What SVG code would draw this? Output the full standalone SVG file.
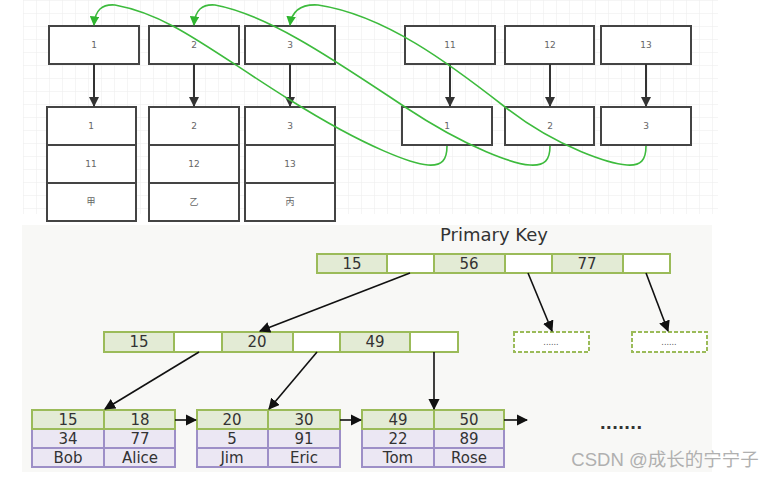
<svg xmlns="http://www.w3.org/2000/svg" width="776" height="478" viewBox="0 0 776 478">
<style>
.box{fill:#fff;stroke:#444;stroke-width:2}
.t{font-family:"DejaVu Sans","Noto Sans CJK SC",sans-serif;font-size:9px;fill:#666;text-anchor:middle}
.g{fill:none;stroke:#3dbb3d;stroke-width:1.6}
.k{stroke:#333;stroke-width:2}
.kb{stroke:#111;stroke-width:1.6}
.kg{fill:#e3ebd5;stroke:#9bbb59;stroke-width:2}
.kw{fill:#fff;stroke:#9bbb59;stroke-width:2}
.kp{fill:#ebe7f3;stroke:#9d8fc7;stroke-width:2}
.d{fill:#fff;stroke:#9bbb59;stroke-width:2;stroke-dasharray:4 2}
.v{font-family:"DejaVu Sans",sans-serif;font-size:15px;fill:#333;text-anchor:middle}
</style>
<defs>
<pattern id="grid" width="13" height="13" patternUnits="userSpaceOnUse" x="23" y="0">
<path d="M13 0H0V13" fill="none" stroke="#ebebeb" stroke-width="1"/>
</pattern>
<marker id="ga" viewBox="0 0 10 10" refX="9" refY="5" markerWidth="6" markerHeight="6" orient="auto" markerUnits="strokeWidth">
<path d="M0 0L10 5L0 10z" fill="#2fb52f"/>
</marker>
<marker id="ka" viewBox="0 0 10 10" refX="9" refY="5" markerWidth="5" markerHeight="5" orient="auto" markerUnits="strokeWidth">
<path d="M0 0L10 5L0 10z" fill="#333"/>
</marker>
<marker id="kb" viewBox="0 0 10 10" refX="9" refY="5" markerWidth="7" markerHeight="7" orient="auto" markerUnits="strokeWidth">
<path d="M0 0L10 5L0 10z" fill="#111"/>
</marker>
</defs>
<rect width="776" height="478" fill="#fff"/>
<rect x="23" y="0" width="695" height="214" fill="url(#grid)"/>
<rect x="22" y="225" width="690" height="247" fill="#f8f8f6"/>

<g id="top-1"><rect class="box" x="49" y="26" width="90" height="38"/><text class="t" x="94" y="48">1</text></g>
<g id="top-2"><rect class="box" x="149" y="26" width="90" height="38"/><text class="t" x="194" y="48">2</text></g>
<g id="top-3"><rect class="box" x="245" y="26" width="90" height="38"/><text class="t" x="290" y="48">3</text></g>
<g id="top-11"><rect class="box" x="405" y="26" width="90" height="38"/><text class="t" x="450" y="48">11</text></g>
<g id="top-12"><rect class="box" x="505" y="26" width="89" height="38"/><text class="t" x="550" y="48">12</text></g>
<g id="top-13"><rect class="box" x="601" y="26" width="90" height="38"/><text class="t" x="646" y="48">13</text></g>

<g id="row-1"><rect class="box" x="47" y="107" width="89" height="114"/><line class="box" x1="47" y1="145" x2="136" y2="145"/><line class="box" x1="47" y1="183" x2="136" y2="183"/>
<text class="t" x="91" y="129">1</text><text class="t" x="91" y="167">11</text><text class="t" x="91" y="205">甲</text></g>
<g id="row-2"><rect class="box" x="149" y="107" width="90" height="114"/><line class="box" x1="149" y1="145" x2="239" y2="145"/><line class="box" x1="149" y1="183" x2="239" y2="183"/>
<text class="t" x="194" y="129">2</text><text class="t" x="194" y="167">12</text><text class="t" x="194" y="205">乙</text></g>
<g id="row-3"><rect class="box" x="245" y="107" width="90" height="114"/><line class="box" x1="245" y1="145" x2="335" y2="145"/><line class="box" x1="245" y1="183" x2="335" y2="183"/>
<text class="t" x="290" y="129">3</text><text class="t" x="290" y="167">13</text><text class="t" x="290" y="205">丙</text></g>

<g id="idx-1"><rect class="box" x="402" y="107" width="90" height="38"/><text class="t" x="447" y="129">1</text></g>
<g id="idx-2"><rect class="box" x="505" y="107" width="89" height="38"/><text class="t" x="550" y="129">2</text></g>
<g id="idx-3"><rect class="box" x="601" y="107" width="90" height="38"/><text class="t" x="646" y="129">3</text></g>

<g id="top-connectors">
<line class="k" x1="94" y1="64" x2="94" y2="106" marker-end="url(#ka)"/>
<line class="k" x1="194" y1="64" x2="194" y2="106" marker-end="url(#ka)"/>
<line class="k" x1="290" y1="64" x2="290" y2="106" marker-end="url(#ka)"/>
<line class="k" x1="450" y1="64" x2="450" y2="106" marker-end="url(#ka)"/>
<line class="k" x1="550" y1="64" x2="550" y2="106" marker-end="url(#ka)"/>
<line class="k" x1="646" y1="64" x2="646" y2="106" marker-end="url(#ka)"/>
<path class="g" d="M447,146 C447,160 442,166 428,165 S370,150 290,100 S170,15 115,5 C102,4 95,10 94,25" marker-end="url(#ga)"/>
<path class="g" d="M550,146 C550,160 545,166 530,165 S470,150 405,107 S270,15 215,5 C202,4 195,10 194,25" marker-end="url(#ga)"/>
<path class="g" d="M646,146 C646,160 641,166 627,165 S560,150 505,107 S385,15 318,5 C302,4 292,10 290,25" marker-end="url(#ga)"/>
</g>

<text x="494" y="241" style="font-family:'DejaVu Sans',sans-serif;font-size:18px;fill:#333;text-anchor:middle">Primary Key</text>

<g id="root">
<rect class="kg" x="317" y="254" width="70" height="19"/><rect class="kw" x="387" y="254" width="47" height="19"/>
<rect class="kg" x="434" y="254" width="71" height="19"/><rect class="kw" x="505" y="254" width="47" height="19"/>
<rect class="kg" x="552" y="254" width="71" height="19"/><rect class="kw" x="623" y="254" width="47" height="19"/>
<text class="v" x="352" y="269">15</text><text class="v" x="469" y="269">56</text><text class="v" x="587" y="269">77</text>
</g>
<g id="inner">
<rect class="kg" x="104" y="332" width="70" height="20"/><rect class="kw" x="174" y="332" width="48" height="20"/>
<rect class="kg" x="222" y="332" width="71" height="20"/><rect class="kw" x="293" y="332" width="47" height="20"/>
<rect class="kg" x="340" y="332" width="70" height="20"/><rect class="kw" x="410" y="332" width="48" height="20"/>
<text class="v" x="139" y="347">15</text><text class="v" x="257" y="347">20</text><text class="v" x="375" y="347">49</text>
</g>
<g id="more-1"><rect class="d" x="514" y="332" width="75" height="20"/><text x="551" y="345" style="font-family:'DejaVu Sans',sans-serif;font-size:8px;fill:#555;text-anchor:middle">......</text></g>
<g id="more-2"><rect class="d" x="632" y="332" width="75" height="20"/><text x="669" y="345" style="font-family:'DejaVu Sans',sans-serif;font-size:8px;fill:#555;text-anchor:middle">......</text></g>

<g id="leaf-1">
<rect class="kp" x="32" y="429" width="72" height="19"/><rect class="kp" x="104" y="429" width="71" height="19"/>
<rect class="kp" x="32" y="448" width="72" height="19"/><rect class="kp" x="104" y="448" width="71" height="19"/>
<rect class="kg" x="32" y="410" width="72" height="19"/><rect class="kg" x="104" y="410" width="71" height="19"/>
<text class="v" x="68" y="425">15</text><text class="v" x="140" y="425">18</text>
<text class="v" x="68" y="444">34</text><text class="v" x="140" y="444">77</text>
<text class="v" x="68" y="463">Bob</text><text class="v" x="140" y="463">Alice</text>
</g>
<g id="leaf-2">
<rect class="kp" x="197" y="429" width="71" height="19"/><rect class="kp" x="268" y="429" width="72" height="19"/>
<rect class="kp" x="197" y="448" width="71" height="19"/><rect class="kp" x="268" y="448" width="72" height="19"/>
<rect class="kg" x="197" y="410" width="71" height="19"/><rect class="kg" x="268" y="410" width="72" height="19"/>
<text class="v" x="232" y="425">20</text><text class="v" x="304" y="425">30</text>
<text class="v" x="232" y="444">5</text><text class="v" x="304" y="444">91</text>
<text class="v" x="232" y="463">Jim</text><text class="v" x="304" y="463">Eric</text>
</g>
<g id="leaf-3">
<rect class="kp" x="362" y="429" width="72" height="19"/><rect class="kp" x="434" y="429" width="70" height="19"/>
<rect class="kp" x="362" y="448" width="72" height="19"/><rect class="kp" x="434" y="448" width="70" height="19"/>
<rect class="kg" x="362" y="410" width="72" height="19"/><rect class="kg" x="434" y="410" width="70" height="19"/>
<text class="v" x="398" y="425">49</text><text class="v" x="469" y="425">50</text>
<text class="v" x="398" y="444">22</text><text class="v" x="469" y="444">89</text>
<text class="v" x="398" y="463">Tom</text><text class="v" x="469" y="463">Rose</text>
</g>

<g id="btree-connectors">
<line class="kb" x1="410" y1="273" x2="260" y2="331" marker-end="url(#kb)"/>
<line class="kb" x1="528" y1="273" x2="552" y2="331" marker-end="url(#kb)"/>
<line class="kb" x1="646" y1="273" x2="668" y2="331" marker-end="url(#kb)"/>
<line class="kb" x1="199" y1="352" x2="105" y2="409" marker-end="url(#kb)"/>
<line class="kb" x1="317" y1="352" x2="269" y2="409" marker-end="url(#kb)"/>
<line class="kb" x1="434" y1="352" x2="434" y2="409" marker-end="url(#kb)"/>
<line class="kb" x1="175" y1="420" x2="196" y2="420" marker-end="url(#kb)"/>
<line class="kb" x1="340" y1="420" x2="361" y2="420" marker-end="url(#kb)"/>
<line class="kb" x1="504" y1="420" x2="527" y2="420" marker-end="url(#kb)"/>
</g>
<text x="621" y="429" style="font-family:'DejaVu Sans',sans-serif;font-size:16px;font-weight:bold;fill:#333;text-anchor:middle">.......</text>
<text x="665" y="466" style="font-family:'Liberation Sans','Noto Sans CJK SC',sans-serif;font-size:18.5px;fill:#b0b0b0;text-anchor:middle">CSDN @成长的宁宁子</text>
</svg>
